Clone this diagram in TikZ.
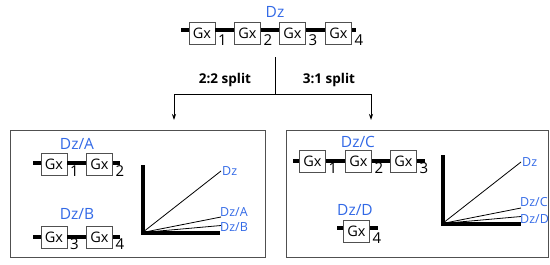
\documentclass[tikz,border=0pt]{standalone}
\usepackage{fontspec}
\setmainfont{Open Sans}
\usetikzlibrary{arrows.meta}
\definecolor{dzblue}{RGB}{50,105,230}
\definecolor{boxgray}{RGB}{80,80,80}
\tikzset{
  gx/.style={draw=boxgray, line width=0.9pt, fill=white, minimum width=26pt, minimum height=22pt, inner sep=0pt, font=\fontsize{14.5}{14.5}\selectfont},
  chrom/.style={line width=3.5pt},
  sub/.style={anchor=base west, inner sep=0pt, font=\fontsize{15}{15}\selectfont},
  dzlab/.style={text=dzblue, inner sep=0pt, font=\fontsize{15.5}{15.5}\selectfont},
  glab/.style={text=dzblue, anchor=west, inner sep=0pt, font=\fontsize{12.5}{12.5}\selectfont},
  axis/.style={line width=4pt},
  gline/.style={line width=0.8pt},
  panel/.style={draw=boxgray, line width=1pt},
  splitlab/.style={font=\fontsize{13.5}{13.5}\selectfont\bfseries, inner sep=0pt},
  arr/.style={line width=0.8pt, -{Stealth[length=6pt,width=4pt]}}
}
\begin{document}
\begin{tikzpicture}[x=1pt,y=-1pt]
\useasboundingbox (0,0) rectangle (550,265);
% ---------- top chromosome
\node[dzlab] (dz) at (275,12) {Dz};
\coordinate (tl) at (181,30);
\coordinate (tr) at (356,30);
\node[gx] (t1) at (202,33) {Gx};
\node[gx] (t2) at (247.5,33) {Gx};
\node[gx] (t3) at (292.5,33) {Gx};
\node[gx] (t4) at (338.5,33) {Gx};
\draw[chrom] (tl) -- (t1.west |- tl);
\draw[chrom] (t1.east |- tl) -- (t2.west |- tl);
\draw[chrom] (t2.east |- tl) -- (t3.west |- tl);
\draw[chrom] (t3.east |- tl) -- (t4.west |- tl);
\draw[chrom] (t4.east |- tl) -- (tr);
\node[sub] (s1) at ([xshift=2.5pt,yshift=-1pt]t1.south east) {1};
\node[sub] (s2) at ([xshift=2.5pt,yshift=-1pt]t2.south east) {2};
\node[sub] (s3) at ([xshift=2.5pt,yshift=-1pt]t3.south east) {3};
\node[sub] (s4) at ([xshift=2.5pt,yshift=-1pt]t4.south east) {4};
% ---------- split
\coordinate (vtop) at (275,57);
\coordinate (split) at (275,94);
\coordinate (aL) at (174,120);
\coordinate (aR) at (371,120);
\draw[line width=0.8pt] (vtop) -- (split);
\draw[arr] (split) -| (aL);
\draw[arr] (split) -| (aR);
\node[splitlab] (l22) at (225,80) {2:2 split};
\node[splitlab] (l31) at (329,80) {3:1 split};
% ---------- panels
\draw[panel] (10,130) rectangle (265,257);
\draw[panel] (286,130) rectangle (548,257);
% ---------- left panel: Dz/A
\node[dzlab] (dza) at (77,144) {Dz/A};
\coordinate (al) at (33,163);
\coordinate (ar) at (120,163);
\node[gx] (a1) at (54,164) {Gx};
\node[gx] (a2) at (99.5,164) {Gx};
\draw[chrom] (al) -- (a1.west |- al);
\draw[chrom] (a1.east |- al) -- (a2.west |- al);
\draw[chrom] (a2.east |- al) -- (ar);
\node[sub] at ([xshift=2.5pt,yshift=-1pt]a1.south east) {1};
\node[sub] at ([xshift=2.5pt,yshift=-1pt]a2.south east) {2};
% Dz/B
\node[dzlab] (dzb) at (77,214) {Dz/B};
\coordinate (bl) at (33,237);
\coordinate (br) at (120,237);
\node[gx] (b1) at (54,237) {Gx};
\node[gx] (b2) at (99.5,237) {Gx};
\draw[chrom] (bl) -- (b1.west |- bl);
\draw[chrom] (b1.east |- bl) -- (b2.west |- bl);
\draw[chrom] (b2.east |- bl) -- (br);
\node[sub] at ([xshift=2.5pt,yshift=-1pt]b1.south east) {3};
\node[sub] at ([xshift=2.5pt,yshift=-1pt]b2.south east) {4};
% graph left
\coordinate (oL) at (142.5,232.5);
\coordinate (yL) at (142.5,165);
\coordinate (xL) at (220,232.5);
\draw[axis] (yL) -- (oL) -- (xL);
\coordinate (eL1) at (221,171);
\coordinate (eL2) at (221,217);
\coordinate (eL3) at (221,225.5);
\draw[gline] (oL) -- (eL1);
\draw[gline] (oL) -- (eL2);
\draw[gline] (oL) -- (eL3);
\node[glab] at ([xshift=1pt]eL1) {Dz};
\node[glab] at ([xshift=-1pt,yshift=4.5pt]eL2) {Dz/A};
\node[glab] at ([xshift=-1pt,yshift=-2pt]eL3) {Dz/B};
% ---------- right panel: Dz/C
\node[dzlab] (dzc) at (358,142) {Dz/C};
\coordinate (cl) at (293,161);
\coordinate (cr) at (425,161);
\node[gx] (c1) at (312.5,161.5) {Gx};
\node[gx] (c2) at (358.5,161.5) {Gx};
\node[gx] (c3) at (403.5,161.5) {Gx};
\draw[chrom] (cl) -- (c1.west |- cl);
\draw[chrom] (c1.east |- cl) -- (c2.west |- cl);
\draw[chrom] (c2.east |- cl) -- (c3.west |- cl);
\draw[chrom] (c3.east |- cl) -- (cr);
\node[sub] at ([xshift=2.5pt,yshift=-1pt]c1.south east) {1};
\node[sub] at ([xshift=2.5pt,yshift=-1pt]c2.south east) {2};
\node[sub] at ([xshift=2.5pt,yshift=-1pt]c3.south east) {3};
% Dz/D
\node[dzlab] (dzd) at (355,210) {Dz/D};
\coordinate (dl) at (337,228);
\coordinate (dr) at (378,228);
\node[gx] (d1) at (356.5,231.5) {Gx};
\draw[chrom] (dl) -- (d1.west |- dl);
\draw[chrom] (d1.east |- dl) -- (dr);
\node[sub] at ([xshift=2.5pt,yshift=-1pt]d1.south east) {4};
% graph right
\coordinate (oR) at (442.5,223.5);
\coordinate (yR) at (442.5,155);
\coordinate (xR) at (521,223.5);
\draw[axis] (yR) -- (oR) -- (xR);
\coordinate (eR1) at (521,162);
\coordinate (eR2) at (521,208);
\coordinate (eR3) at (521,216.5);
\draw[gline] (oR) -- (eR1);
\draw[gline] (oR) -- (eR2);
\draw[gline] (oR) -- (eR3);
\node[glab] at ([xshift=1pt]eR1) {Dz};
\node[glab] at ([xshift=-1pt,yshift=5.5pt]eR2) {Dz/C};
\node[glab] at ([xshift=-1pt,yshift=-2.5pt]eR3) {Dz/D};
\end{tikzpicture}
\end{document}
